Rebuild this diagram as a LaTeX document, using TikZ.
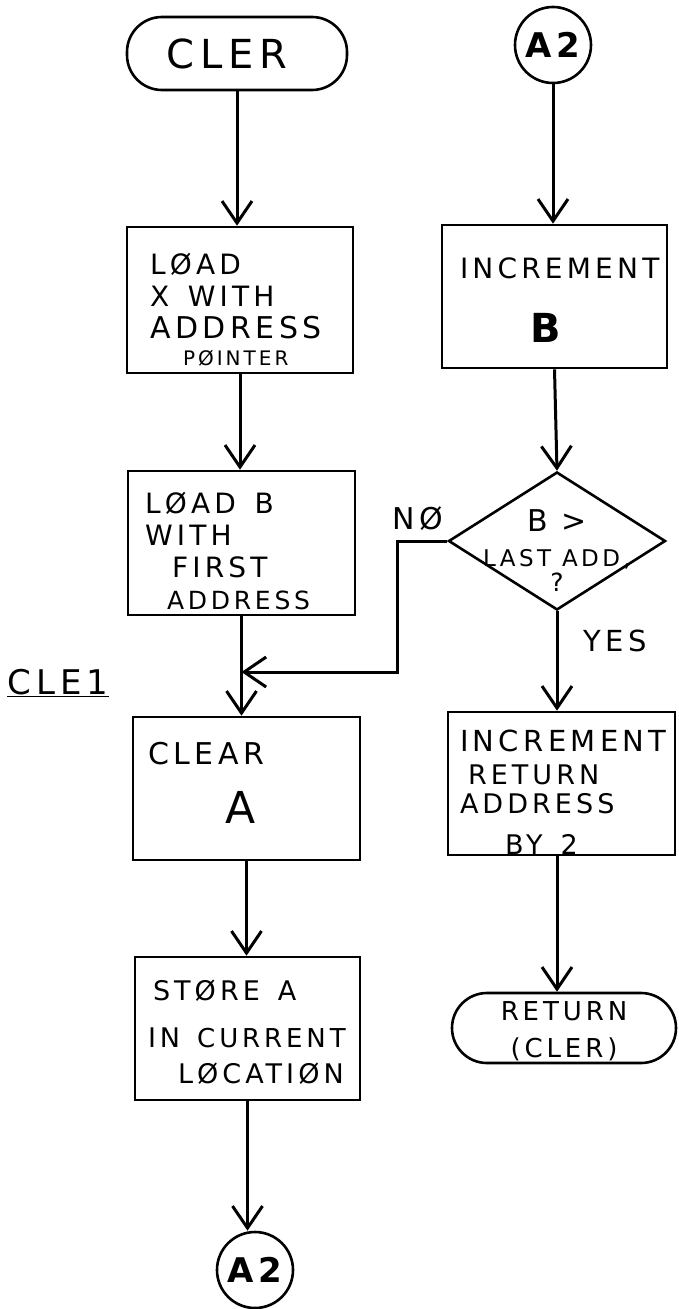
\documentclass[tikz,border=0pt]{standalone}
\usepackage{fontspec}
\setmainfont{DejaVu Sans}[LetterSpace=15]
\usetikzlibrary{arrows.meta,shapes.geometric}
\newcommand{\topstrut}[1]{\rule{0pt}{#1}}
\tikzset{
  fs/.style 2 args={font=\fontsize{#1}{#2}\selectfont},
  proc/.style={draw, line width=2.6pt, inner ysep=0pt, align=left},
  term/.style={draw, line width=2.6pt, rounded corners=35pt, inner sep=0pt, align=center},
  conn/.style={draw, circle, line width=2.6pt, minimum size=76pt, inner sep=0pt, font=\bfseries\fontsize{34}{38}\selectfont},
  arr/.style={line width=3pt, -{Straight Barb[length=22pt,width=30pt,line width=3pt]}},
  lbl/.style={inner sep=0pt}
}
\begin{document}
\begin{tikzpicture}[x=1pt,y=-1pt]
\path[fill=white] (0,0) rectangle (678,1309);
\useasboundingbox (0,0) rectangle (678,1309);

% left column
\node[term, minimum width=220pt, minimum height=73pt, fs={40}{44}] (cler) at (237,53.5) {CLER\hspace*{20pt}};
\node[proc, minimum width=226pt, minimum height=146pt, inner xsep=23pt, text width=180pt, fs={28}{32}] (b1) at (240,300)
  {\topstrut{41pt}LØAD\\X\ \ WITH\\{\fontsize{30}{32}\selectfont ADDRESS}\\[-5pt]\hspace*{33pt}{\fontsize{20}{22}\selectfont PØINTER}};
\node[proc, minimum width=227pt, minimum height=144pt, inner xsep=17pt, text width=193pt, fs={28}{32}] (b2) at (241.5,543)
  {\topstrut{37pt}LØAD\ \ B\\WITH\\\hspace*{27pt}FIRST\\\hspace*{22pt}{\fontsize{25}{32}\selectfont ADDRESS}};
\node[proc, minimum width=227pt, minimum height=143pt, inner xsep=15pt, text width=197pt, fs={30}{36}] (clear) at (246.5,788.5)
  {CLEAR\\[23pt]\hspace*{77pt}{\fontsize{44}{48}\selectfont A}\rule[-12pt]{0pt}{12pt}};
\node[proc, minimum width=225pt, minimum height=143pt, inner xsep=18pt, text width=189pt, fs={27}{40}] (store) at (247.5,1028.5)
  {\topstrut{27pt}STØRE\ \ A\\[7pt]\hspace*{-5pt}\mbox{IN\ \hspace{8pt}{\fontsize{26}{30}\selectfont CURRENT}}\\[-4pt]\hspace*{25pt}LØCATIØN};
\node[conn] (a2b) at (255,1270) {A2};

% right column
\node[conn] (a2t) at (553,45) {A2};
\node[proc, minimum width=225pt, minimum height=143pt, inner xsep=18pt, text width=189pt, fs={28}{32}] (b3) at (554.5,296.5)
  {\topstrut{28pt}\mbox{INCREMENT}\\[32pt]\hspace*{70pt}{\fontsize{40}{44}\selectfont\bfseries B}};
\node[draw, diamond, line width=2.6pt, minimum width=217pt, minimum height=138pt, inner sep=0pt,
  label={[fs={23}{26}, align=center, yshift=-10pt]center:{\fontsize{30}{30}\selectfont B >}\\[9pt]LAST ADD,\\[-1pt]{\fontsize{25}{26}\selectfont ?}}] (dia) at (557,541) {};
\node[proc, minimum width=227pt, minimum height=143pt, inner xsep=12pt, text width=203pt, fs={27}{33}] (b4) at (561.5,783.5)
  {\topstrut{38pt}\mbox{\fontsize{29}{33}\selectfont INCREMENT}\\\hspace*{8pt}RETURN\\[-4pt]ADDRESS\\[8pt]\hspace*{45pt}BY\ \ 2};
\node[term, minimum width=224pt, minimum height=70pt, fs={26}{37}] (ret) at (564,1028) {\topstrut{26pt}RETURN\\(CLER)};

% labels
\node[lbl, fs={30}{34}] (no) at (418,519) {NØ};
\node[lbl, fs={29}{32}] (yes) at (615,641) {YES};
\node[lbl, fs={34}{38}] (cle) at (58,683) {\underline{CLE1}};

\coordinate (j) at (241.5,672);

% connectors
\draw[arr] (cler.south) -- (cler.south |- b1.north);
\draw[arr] (b1.south) -- (b1.south |- b2.north);
\draw[arr] (b2.south) -- (b2.south |- clear.north);
\draw[arr] (clear.south) -- (clear.south |- store.north);
\draw[arr] (store.south) -- (store.south |- a2b.north);
\draw[arr] (a2t.south) -- (a2t.south |- b3.north);
\draw[arr] (b3.south) -- (dia.north);
\draw[arr] (dia.south) -- (dia.south |- b4.north);
\draw[arr] (dia.south |- b4.south) -- (dia.south |- ret.north);
\draw[arr] (dia.west) -- ++(-50,0) |- (j);
\end{tikzpicture}
\end{document}
